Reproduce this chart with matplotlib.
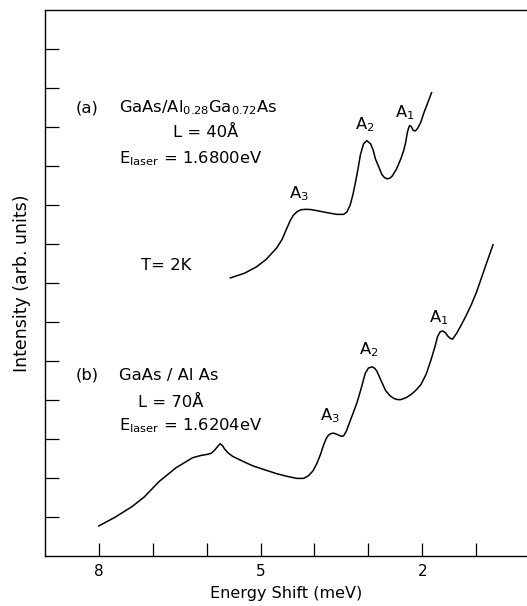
import matplotlib
matplotlib.use("Agg")
import matplotlib.pyplot as plt

plt.rcParams["mathtext.default"] = "regular"

# === Data ===
# (a) GaAs/Al0.28Ga0.72As, L = 40 A
shift_a = [5.56, 5.30, 5.08, 4.90, 4.70, 4.60, 4.52, 4.45, 4.39, 4.32, 4.25,
           4.15, 4.05, 3.90, 3.75, 3.59, 3.46, 3.40, 3.34, 3.29, 3.24, 3.19, 3.15,
           3.09, 3.03, 2.96, 2.91, 2.87, 2.80, 2.75, 2.70, 2.65, 2.60, 2.56,
           2.48, 2.40, 2.35, 2.31, 2.28, 2.25, 2.23, 2.20, 2.17, 2.13, 2.09,
           2.03, 1.97, 1.90, 1.83]
inten_a = [7.13, 7.25, 7.41, 7.60, 7.90, 8.12, 8.38, 8.60, 8.74, 8.83, 8.88,
           8.89, 8.88, 8.84, 8.80, 8.76, 8.76, 8.82, 8.99, 9.25, 9.58, 9.95, 10.28,
           10.57, 10.65, 10.57, 10.40, 10.18, 9.95, 9.78, 9.70, 9.67, 9.69, 9.74,
           9.92, 10.18, 10.38, 10.60, 10.85, 11.00, 11.04, 11.00, 10.91, 10.90, 10.96,
           11.12, 11.37, 11.62, 11.88]

# (b) GaAs/AlAs, L = 70 A
shift_b = [8.00, 7.69, 7.38, 7.16, 6.88, 6.57, 6.26, 6.10, 6.01, 5.92, 5.86,
           5.80, 5.75, 5.70, 5.67, 5.60, 5.51, 5.30, 5.14, 4.90, 4.70, 4.50,
           4.33, 4.20, 4.11, 4.03, 3.96, 3.89, 3.83, 3.78, 3.74, 3.69, 3.65,
           3.60, 3.55, 3.50, 3.46, 3.41, 3.37, 3.29, 3.21, 3.13, 3.06, 3.00,
           2.93, 2.88, 2.84, 2.76, 2.68, 2.60, 2.53, 2.46, 2.40, 2.30, 2.21,
           2.12, 2.03, 1.93, 1.84, 1.77, 1.72, 1.67, 1.62, 1.57, 1.53, 1.48,
           1.44, 1.36, 1.28, 1.19, 1.10, 1.00, 0.91, 0.80, 0.69]
inten_b = [0.77, 1.00, 1.27, 1.51, 1.91, 2.26, 2.52, 2.58, 2.60, 2.63, 2.70,
           2.80, 2.88, 2.82, 2.75, 2.64, 2.55, 2.41, 2.31, 2.20, 2.11, 2.04,
           1.99, 1.99, 2.06, 2.18, 2.36, 2.60, 2.85, 3.02, 3.10, 3.14, 3.15,
           3.13, 3.10, 3.07, 3.08, 3.20, 3.35, 3.64, 3.94, 4.32, 4.68, 4.82,
           4.85, 4.81, 4.73, 4.48, 4.24, 4.11, 4.04, 4.01, 4.01, 4.06, 4.14,
           4.25, 4.39, 4.66, 5.03, 5.35, 5.62, 5.75, 5.77, 5.72, 5.64, 5.58,
           5.56, 5.72, 5.92, 6.16, 6.42, 6.75, 7.11, 7.55, 7.98]

x_ticks = [8, 7, 6, 5, 4, 3, 2, 1]
x_tick_labels = ["8", "", "", "5", "", "", "2", ""]
y_ticks = list(range(1, 14))

# === Figure ===
fig = plt.figure(figsize=(5.27, 6.06), dpi=100)
ax = fig.add_axes([0.085, 0.0825, 0.915, 0.901])

ax.plot(shift_a, inten_a, color="black", linewidth=1.1)
ax.plot(shift_b, inten_b, color="black", linewidth=1.1)

ax.set_xlim(9, 0.06)
ax.set_ylim(0, 14)

ax.set_xticks(x_ticks)
ax.set_xticklabels(x_tick_labels)
ax.set_yticks(y_ticks)
ax.set_yticklabels([])
ax.tick_params(axis="both", direction="in", length=9.5, width=0.9,
               labelsize=11, pad=6)
ax.tick_params(axis="y", length=10)

for side in ["left", "bottom", "top"]:
    ax.spines[side].set_linewidth(1.0)
ax.spines["right"].set_visible(False)

ax.set_xlabel("Energy Shift (meV)", fontsize=11.5, labelpad=5)
ax.set_ylabel("Intensity (arb. units)", fontsize=12.5, labelpad=4)

# === Annotations ===
fs = 11.8
ax.text(8.43, 11.5, "(a)", fontsize=fs, va="center", ha="left")
ax.text(7.63, 11.5, r"GaAs/Al$_{0.28}$Ga$_{0.72}$As", fontsize=fs, va="center", ha="left")
ax.text(6.63, 10.87, "L = 40Å", fontsize=fs, va="center", ha="left")
ax.text(7.63, 10.18, r"E$_{laser}$ = 1.6800eV", fontsize=fs, va="center", ha="left")
ax.text(7.22, 7.45, "T= 2K", fontsize=fs, va="center", ha="left")

ax.text(4.29, 9.28, r"A$_3$", fontsize=fs, va="center", ha="center")
ax.text(3.07, 11.07, r"A$_2$", fontsize=fs, va="center", ha="center")
ax.text(2.33, 11.37, r"A$_1$", fontsize=fs, va="center", ha="center")

ax.text(8.43, 4.63, "(b)", fontsize=fs, va="center", ha="left")
ax.text(7.63, 4.63, "GaAs / Al As", fontsize=fs, va="center", ha="left")
ax.text(7.28, 3.94, "L = 70Å", fontsize=fs, va="center", ha="left")
ax.text(7.63, 3.35, r"E$_{laser}$ = 1.6204eV", fontsize=fs, va="center", ha="left")

ax.text(3.71, 3.59, r"A$_3$", fontsize=fs, va="center", ha="center")
ax.text(2.99, 5.28, r"A$_2$", fontsize=fs, va="center", ha="center")
ax.text(1.69, 6.12, r"A$_1$", fontsize=fs, va="center", ha="center")

fig.savefig("out.png", dpi=100)
